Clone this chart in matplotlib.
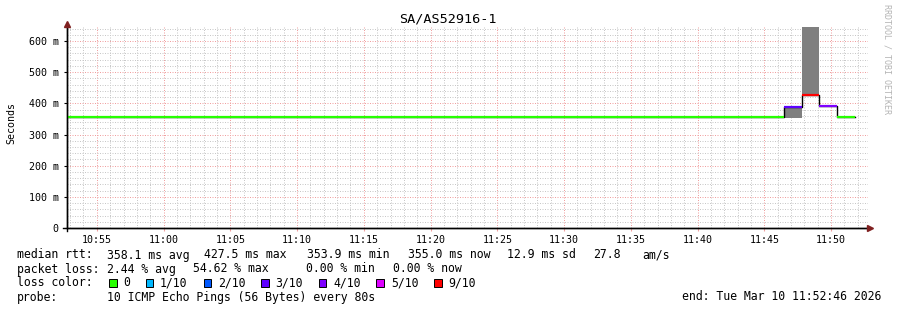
#!/usr/bin/env python3
"""
SmokePing style latency chart (SA/AS52916-1)
"""

from datetime import datetime

import matplotlib
matplotlib.use("Agg")
import matplotlib.pyplot as plt
import matplotlib.dates as mdates
from matplotlib.patches import Rectangle
from matplotlib.ticker import MultipleLocator

# --- data -------------------------------------------------------------
DAY = "2026-03-10"
view_start = "10:52:46"
view_end = "11:52:46"

# median rtt in steps of one probe round (80 s)
seg_start = ["10:52:46", "11:46:28", "11:47:48", "11:49:08", "11:50:28"]
seg_end = ["11:46:28", "11:47:48", "11:49:08", "11:50:28", "11:51:48"]
median_ms = [355.0, 389.0, 427.5, 391.0, 355.0]
loss_level = ["0", "3/10", "9/10", "4/10", "0"]

# smoke (spread of the single pings)
smoke_lo = [354.5, 353.0, 429.0, 390.5, 354.5]
smoke_hi = [355.5, 392.0, 700.0, 392.0, 355.5]

loss_labels = ["0", "1/10", "2/10", "3/10", "4/10", "5/10", "9/10"]
loss_colors = ["#26ff00", "#00b8ff", "#0059ff", "#5e00ff", "#7e00ff", "#dd00ff", "#ff0000"]

y_ticks_ms = [0, 100, 200, 300, 400, 500, 600]

title = "SA/AS52916-1"
rtt_items = ["358.1 ms avg", "427.5 ms max", "353.9 ms min", "355.0 ms now", "12.9 ms sd", "27.8", "am/s"]
loss_items = ["2.44 % avg", "54.62 % max", "0.00 % min", "0.00 % now"]
probe_text = "10 ICMP Echo Pings (56 Bytes) every 80s"
end_text = "end: Tue Mar 10 11:52:46 2026"

# --- layout (pixels) --------------------------------------------------
W, H = 897, 310
rtt_x = [106.7, 204, 307, 408, 507, 593, 642]
loss_x = [106.7, 192.7, 306, 393.3]
MONO = "DejaVu Sans Mono"
CHAR_W = 6.94


def fx(px):
    return px / W


def fy(py):
    return 1 - py / H


def t(s):
    return datetime.strptime(f"{DAY} {s}", "%Y-%m-%d %H:%M:%S")


color_of = dict(zip(loss_labels, loss_colors))

fig = plt.figure(figsize=(W / 100, H / 100), dpi=100, facecolor="white")
ax = fig.add_axes([fx(67), fy(228), (868 - 67) / W, (228 - 27) / H])

starts = [t(s) for s in seg_start]
ends = [t(s) for s in seg_end]

# smoke
for s, e, lo, hi in zip(starts, ends, smoke_lo, smoke_hi):
    ax.fill_between([s, e], [lo, lo], [hi, hi], color="#7f7f7f", lw=0, zorder=2)

# median: black transitions + coloured levels
ax.plot(starts + [ends[-1]], median_ms + [median_ms[-1]], drawstyle="steps-post",
        color="black", lw=1.0, zorder=3)
ax.hlines(median_ms, starts, ends, colors=[color_of[l] for l in loss_level],
          lw=1.6, zorder=4)

ax.set_xlim(t(view_start), t(view_end))
ax.set_ylim(0, 645)

ax.xaxis.set_major_locator(mdates.MinuteLocator(byminute=range(0, 60, 5)))
ax.xaxis.set_minor_locator(mdates.MinuteLocator())
ax.xaxis.set_major_formatter(mdates.DateFormatter("%H:%M"))
ax.set_yticks(y_ticks_ms)
ax.set_yticklabels([f"{v} m" if v else "0" for v in y_ticks_ms])
ax.yaxis.set_minor_locator(MultipleLocator(20))

ax.set_axisbelow(True)
ax.grid(which="minor", color="#c8c8c8", linestyle=(0, (1, 1.5)), lw=0.72)
ax.grid(which="major", color="#f0a0a0", linestyle=(0, (1, 1.5)), lw=0.72)

for side in ["top", "right"]:
    ax.spines[side].set_visible(False)
for side in ["left", "bottom"]:
    ax.spines[side].set_color("black")
    ax.spines[side].set_linewidth(1.0)

ax.tick_params(which="major", axis="x", length=2, color="#f0a0a0", pad=3.2,
               labelsize=7.2, labelfontfamily=MONO)
ax.tick_params(which="major", axis="y", length=2.5, color="black", pad=3.5,
               labelsize=7.2, labelfontfamily=MONO)
ax.tick_params(which="minor", length=0)

# axis extensions and arrows
ax.plot([0, 0], [-0.015, 1.02], transform=ax.transAxes, color="black", lw=1.0,
        clip_on=False, zorder=5)
ax.plot([-0.005, 1.0], [0, 0], transform=ax.transAxes, color="black", lw=1.0,
        clip_on=False, zorder=5)
ax.plot(0, 1.017, marker="^", ms=4.5, color="#802020", transform=ax.transAxes,
        clip_on=False, zorder=6)
ax.plot(1.003, 0, marker=">", ms=4.5, color="#802020", transform=ax.transAxes,
        clip_on=False, zorder=6)

# texts
fig.text(fx(448), fy(19), title, ha="center", va="center", fontsize=9.7, family=MONO)
fig.text(fx(11), fy(123), "Seconds", rotation=90, ha="center", va="center",
         fontsize=7.2, family=MONO)
fig.text(fx(887), fy(4), "RRDTOOL / TOBI OETIKER", rotation=270, ha="center", va="top",
         fontsize=6.0, family=MONO, color="#b4b4b4")

# legend rows
LEG = dict(fontsize=8.3, family=MONO, va="baseline", ha="left")
fig.text(fx(16.7), fy(258.5), "median rtt:", **LEG)
for txt, x in zip(rtt_items, rtt_x):
    fig.text(fx(x), fy(258.5), txt, **LEG)

fig.text(fx(16.7), fy(272.5), "packet loss:", **LEG)
for txt, x in zip(loss_items, loss_x):
    fig.text(fx(x), fy(272.5), txt, **LEG)

fig.text(fx(16.7), fy(286.5), "loss color:", **LEG)
cursor = 109.0
for lab, col in zip(loss_labels, loss_colors):
    fig.patches.append(Rectangle((fx(cursor), fy(286.5)), 7.5 / W, 7.5 / H,
                                 transform=fig.transFigure, facecolor=col,
                                 edgecolor="black", lw=0.7))
    lx = cursor + 14.3
    fig.text(fx(lx), fy(286.5), lab, **LEG)
    cursor = lx + len(lab) * CHAR_W + 15.6

fig.text(fx(16.7), fy(300.5), "probe:", **LEG)
fig.text(fx(106.7), fy(300.5), probe_text, **LEG)
fig.text(fx(881), fy(300.5), end_text, **dict(LEG, ha="right"))

fig.savefig("out.png", dpi=100)
plt.close(fig)
